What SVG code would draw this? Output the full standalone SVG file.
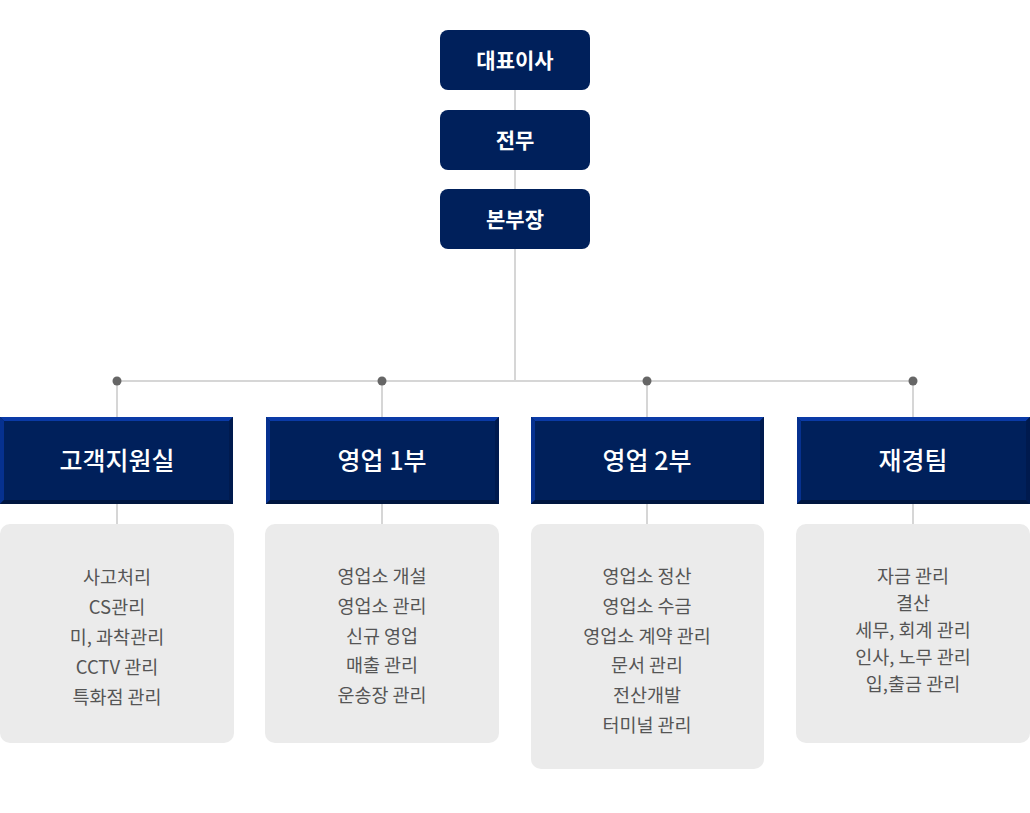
<svg xmlns="http://www.w3.org/2000/svg" width="1030" height="813" viewBox="0 0 1030 813">
<style>
.exec{fill:#00205b}
.exec-t{font-family:"Noto Sans CJK KR","Noto Sans",sans-serif;font-size:21px;font-weight:700;fill:#fff;text-anchor:middle}
.dept{fill:#00205b}
.bt{fill:#0a3aa6}
.bl{fill:#06318f}
.br{fill:#001a4e}
.bb{fill:#00163f}
.dept-t{font-family:"Noto Sans CJK KR","Noto Sans",sans-serif;font-size:25px;font-weight:500;fill:#fff;text-anchor:middle}
.card{fill:#ebebeb}
.card-t{font-family:"Noto Sans CJK KR","Noto Sans",sans-serif;font-size:18.5px;fill:#555;text-anchor:middle}
.ln{stroke:#d6d6d6;stroke-width:2;fill:none}
.dot{fill:#666}
</style>
<defs>
<g id="bevel">
<rect class="dept" x="0" y="0" width="233" height="87"/>
<polygon class="bt" points="0,0 233,0 229,4 4,4"/>
<polygon class="bl" points="0,0 4,4 4,83 0,87"/>
<polygon class="br" points="233,0 233,87 229,83 229,4"/>
<polygon class="bb" points="0,87 233,87 229,83 4,83"/>
</g>
</defs>
<g id="connectors">
<line class="ln" x1="515" y1="90" x2="515" y2="381"/>
<line class="ln" x1="117" y1="381" x2="913" y2="381"/>
<line class="ln" x1="117" y1="381" x2="117" y2="417"/>
<line class="ln" x1="382" y1="381" x2="382" y2="417"/>
<line class="ln" x1="647" y1="381" x2="647" y2="417"/>
<line class="ln" x1="913" y1="381" x2="913" y2="417"/>
<line class="ln" x1="117" y1="504" x2="117" y2="524"/>
<line class="ln" x1="382" y1="504" x2="382" y2="524"/>
<line class="ln" x1="647" y1="504" x2="647" y2="524"/>
<line class="ln" x1="913" y1="504" x2="913" y2="524"/>
<circle class="dot" cx="117" cy="381" r="4.5"/>
<circle class="dot" cx="382" cy="381" r="4.5"/>
<circle class="dot" cx="647" cy="381" r="4.5"/>
<circle class="dot" cx="913" cy="381" r="4.5"/>
</g>
<g id="ceo">
<rect class="exec" x="440" y="30" width="150" height="60" rx="8"/>
<text class="exec-t" x="515" y="67.5">대표이사</text>
</g>
<g id="director">
<rect class="exec" x="440" y="110" width="150" height="60" rx="8"/>
<text class="exec-t" x="515" y="147.5">전무</text>
</g>
<g id="head">
<rect class="exec" x="440" y="189" width="150" height="60" rx="8"/>
<text class="exec-t" x="515" y="226.5">본부장</text>
</g>
<g id="dept-cs">
<use href="#bevel" x="0" y="417"/>
<text class="dept-t" x="117" y="470">고객지원실</text>
</g>
<g id="dept-sales1">
<use href="#bevel" x="266" y="417"/>
<text class="dept-t" x="382" y="470">영업 1부</text>
</g>
<g id="dept-sales2">
<use href="#bevel" x="531" y="417"/>
<text class="dept-t" x="647" y="470">영업 2부</text>
</g>
<g id="dept-fin">
<use href="#bevel" x="797" y="417"/>
<text class="dept-t" x="913" y="470">재경팀</text>
</g>
<g id="card-cs">
<rect class="card" x="0" y="524" width="234" height="219" rx="10"/>
<text class="card-t" x="117" y="583.5">사고처리</text>
<text class="card-t" x="117" y="613.5">CS관리</text>
<text class="card-t" x="117" y="643.5">미, 과착관리</text>
<text class="card-t" x="117" y="673.5">CCTV 관리</text>
<text class="card-t" x="117" y="703.5">특화점 관리</text>
</g>
<g id="card-sales1">
<rect class="card" x="265" y="524" width="234" height="219" rx="10"/>
<text class="card-t" x="382" y="582.5">영업소 개설</text>
<text class="card-t" x="382" y="612.5">영업소 관리</text>
<text class="card-t" x="382" y="642.5">신규 영업</text>
<text class="card-t" x="382" y="671.5">매출 관리</text>
<text class="card-t" x="382" y="701.5">운송장 관리</text>
</g>
<g id="card-sales2">
<rect class="card" x="531" y="524" width="233" height="245" rx="10"/>
<text class="card-t" x="647" y="582.5">영업소 정산</text>
<text class="card-t" x="647" y="612.5">영업소 수금</text>
<text class="card-t" x="647" y="642.5">영업소 계약 관리</text>
<text class="card-t" x="647" y="671.5">문서 관리</text>
<text class="card-t" x="647" y="701.5">전산개발</text>
<text class="card-t" x="647" y="731.5">터미널 관리</text>
</g>
<g id="card-fin">
<rect class="card" x="796" y="524" width="234" height="219" rx="10"/>
<text class="card-t" x="913" y="582.5">자금 관리</text>
<text class="card-t" x="913" y="609.5">결산</text>
<text class="card-t" x="913" y="636.5">세무, 회계 관리</text>
<text class="card-t" x="913" y="663.5">인사, 노무 관리</text>
<text class="card-t" x="913" y="690.5">입,출금 관리</text>
</g>
</svg>
